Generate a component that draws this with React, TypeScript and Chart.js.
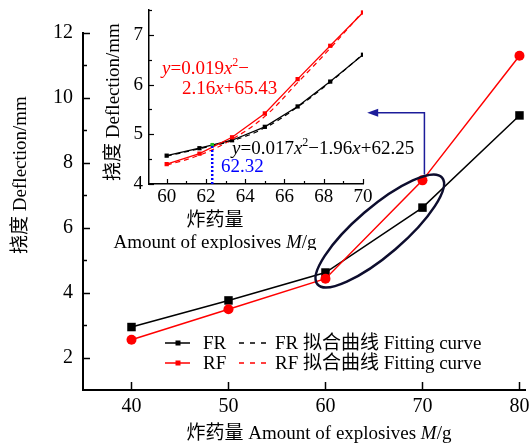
import React, { useEffect, useRef } from "react";
import { Chart, registerables } from "chart.js";
Chart.register(...registerables);

// ---------- data ----------
const X_MAIN = [40, 50, 60, 70, 80];
const FR_MAIN = [2.94, 3.76, 4.62, 6.62, 9.46];
const RF_MAIN = [2.55, 3.49, 4.43, 7.46, 11.3];
const X_TICKS_MAIN = [40, 50, 60, 70, 80];
const Y_TICKS_MAIN = [2, 4, 6, 8, 10, 12];
const Y_MINOR_MAIN = [3, 5, 7, 9, 11];

const X_INSET = [60, 61.67, 63.33, 65, 66.67, 68.33, 70];
const FR_INSET = [4.57, 4.72, 4.88, 5.15, 5.56, 6.06, 6.6];
const RF_INSET = [4.4, 4.61, 4.94, 5.42, 6.11, 6.78, 7.45];
const FR_FIT = [4.56, 4.71, 4.87, 5.13, 5.55, 6.05, 6.61];
const RF_FIT = [4.38, 4.58, 4.9, 5.36, 6.04, 6.73, 7.47];
const X_TICKS_INSET = [60, 62, 64, 66, 68, 70];
const X_MINOR_INSET = [61, 63, 65, 67, 69];
const Y_TICKS_INSET = [4, 5, 6, 7];
const Y_MINOR_INSET = [4.5, 5.5, 6.5, 7.5];
const CROSS_X = 62.32;
const CROSS_Y = 4.79;

const SERIES_NAMES = ["FR", "RF"];
const FIT_NAMES = ["FR 拟合曲线 Fitting curve", "RF 拟合曲线 Fitting curve"];

// ---------- styles ----------
const SERIF = '"Liberation Serif", "Times New Roman", "Noto Sans CJK SC", serif';
const RED = "#ff0000";
const BLACK = "#000000";
const BLUE = "#0000ff";
const NAVY = "#1c1c9a";

type Seg = { t: string; it?: boolean; sup?: boolean };

function drawRich(
  ctx: CanvasRenderingContext2D,
  segs: Seg[],
  x: number,
  y: number,
  size: number,
  color: string,
  align: "left" | "center" = "left"
) {
  const fontFor = (s: Seg) =>
    `${s.it ? "italic " : ""}${s.sup ? Math.round(size * 0.62) : size}px ${SERIF}`;
  const widths = segs.map((s) => {
    ctx.font = fontFor(s);
    return ctx.measureText(s.t).width;
  });
  const total = widths.reduce((a, b) => a + b, 0);
  let cx = align === "center" ? x - total / 2 : x;
  ctx.fillStyle = color;
  ctx.textAlign = "left";
  ctx.textBaseline = "alphabetic";
  const base = y + size * 0.33;
  segs.forEach((s, i) => {
    ctx.font = fontFor(s);
    ctx.fillText(s.t, cx, s.sup ? base - size * 0.42 : base);
    cx += widths[i];
  });
}

function tickLine(ctx: CanvasRenderingContext2D, x1: number, y1: number, x2: number, y2: number, w: number) {
  ctx.beginPath();
  ctx.moveTo(x1, y1);
  ctx.lineTo(x2, y2);
  ctx.lineWidth = w;
  ctx.strokeStyle = BLACK;
  ctx.stroke();
}

const pts = (xs: number[], ys: number[]) => xs.map((x, i) => ({ x, y: ys[i] }));

export default function App() {
  const mainRef = useRef<HTMLCanvasElement>(null);
  const insetRef = useRef<HTMLCanvasElement>(null);

  useEffect(() => {
    if (!mainRef.current || !insetRef.current) return;

    const mainPlugin = {
      id: "mainDecor",
      afterDraw(chart: any) {
        const ctx: CanvasRenderingContext2D = chart.ctx;
        const xs = chart.scales.x;
        const ys = chart.scales.y;
        const a = chart.chartArea;
        ctx.save();
        // inward ticks
        X_TICKS_MAIN.forEach((v) => {
          const px = Math.round(xs.getPixelForValue(v)) + 0.5;
          tickLine(ctx, px, a.bottom, px, a.bottom - 8, 1.5);
        });
        Y_TICKS_MAIN.forEach((v) => {
          const py = Math.round(ys.getPixelForValue(v)) + 0.5;
          tickLine(ctx, a.left, py, a.left + 7, py, 1.5);
        });
        Y_MINOR_MAIN.forEach((v) => {
          const py = Math.round(ys.getPixelForValue(v)) + 0.5;
          tickLine(ctx, a.left, py, a.left + 4, py, 1.5);
        });
        // axis titles
        drawRich(
          ctx,
          [{ t: "炸药量 Amount of explosives " }, { t: "M", it: true }, { t: "/g" }],
          319,
          433,
          19,
          BLACK,
          "center"
        );
        ctx.save();
        ctx.translate(20, 175);
        ctx.rotate(-Math.PI / 2);
        drawRich(ctx, [{ t: "挠度 Deflection/mm" }], 0, 0, 19, BLACK, "center");
        ctx.restore();

        // legend
        const rows = [
          { name: SERIES_NAMES[0], fit: FIT_NAMES[0], color: BLACK, y: 343 },
          { name: SERIES_NAMES[1], fit: FIT_NAMES[1], color: RED, y: 363 },
        ];
        rows.forEach((r) => {
          ctx.beginPath();
          ctx.setLineDash([]);
          ctx.moveTo(165, r.y);
          ctx.lineTo(190, r.y);
          ctx.strokeStyle = r.color;
          ctx.lineWidth = 1.5;
          ctx.stroke();
          ctx.fillStyle = r.color;
          ctx.fillRect(175.5, r.y - 2.5, 5, 5);
          drawRich(ctx, [{ t: r.name }], 203, r.y, 19, BLACK);
          ctx.beginPath();
          ctx.setLineDash([5, 6]);
          ctx.moveTo(239, r.y);
          ctx.lineTo(269, r.y);
          ctx.strokeStyle = r.color;
          ctx.lineWidth = 1.3;
          ctx.stroke();
          ctx.setLineDash([]);
          drawRich(ctx, [{ t: r.fit }], 275, r.y, 19, BLACK);
        });

        // ellipse around the 60-70 region
        const ecx = xs.getPixelForValue(65.6);
        const ecy = ys.getPixelForValue(5.9);
        ctx.beginPath();
        ctx.ellipse(ecx, ecy, 82, 24, (-40.6 * Math.PI) / 180, 0, Math.PI * 2);
        ctx.strokeStyle = "#0d0d2e";
        ctx.lineWidth = 2.5;
        ctx.stroke();

        // arrow to the inset
        const axp = xs.getPixelForValue(70.2);
        const ay0 = ys.getPixelForValue(7.64);
        const ay1 = ys.getPixelForValue(9.54);
        const tip = xs.getPixelForValue(64.3);
        ctx.beginPath();
        ctx.moveTo(axp, ay0);
        ctx.lineTo(axp, ay1);
        ctx.lineTo(tip + 9, ay1);
        ctx.strokeStyle = NAVY;
        ctx.lineWidth = 1.5;
        ctx.stroke();
        ctx.beginPath();
        ctx.moveTo(tip, ay1);
        ctx.lineTo(tip + 11, ay1 - 4);
        ctx.lineTo(tip + 11, ay1 + 4);
        ctx.closePath();
        ctx.fillStyle = NAVY;
        ctx.fill();
        ctx.restore();
      },
    };

    const main = new Chart(mainRef.current, {
      type: "line",
      data: {
        datasets: [
          {
            label: "RF",
            data: pts(X_MAIN, RF_MAIN),
            borderColor: RED,
            backgroundColor: RED,
            borderWidth: 1.5,
            pointStyle: "circle",
            pointRadius: 5,
            pointBorderWidth: 0,
          },
          {
            label: "FR",
            data: pts(X_MAIN, FR_MAIN),
            borderColor: BLACK,
            backgroundColor: BLACK,
            borderWidth: 1.5,
            pointStyle: "rect",
            pointRadius: 6,
            pointBorderWidth: 0,
          },
        ],
      },
      options: {
        animation: false,
        responsive: false,
        devicePixelRatio: 1,
        layout: { padding: { top: 33, right: 4, left: 0, bottom: 0 } },
        plugins: { legend: { display: false }, tooltip: { enabled: false } },
        scales: {
          x: {
            type: "linear",
            min: 35,
            max: 80.57,
            afterBuildTicks: (s: any) => {
              s.ticks = X_TICKS_MAIN.map((v) => ({ value: v }));
            },
            afterFit: (s: any) => {
              s.height = 54;
              s.paddingLeft = 0;
              s.paddingRight = 0;
            },
            ticks: {
              font: { family: SERIF, size: 20 },
              color: BLACK,
              padding: 5,
              maxRotation: 0,
              autoSkip: false,
            },
            grid: { color: "transparent", drawTicks: false },
            border: { color: BLACK, width: 2 },
          },
          y: {
            type: "linear",
            min: 1,
            max: 12,
            afterBuildTicks: (s: any) => {
              s.ticks = Y_TICKS_MAIN.map((v) => ({ value: v }));
            },
            afterFit: (s: any) => {
              s.width = 83;
              s.paddingTop = 0;
              s.paddingBottom = 0;
            },
            ticks: {
              font: { family: SERIF, size: 20 },
              color: BLACK,
              padding: 10,
              autoSkip: false,
            },
            grid: { color: "transparent", drawTicks: false },
            border: { color: BLACK, width: 2 },
          },
        },
      },
      plugins: [mainPlugin],
    } as any);

    const insetPlugin = {
      id: "insetDecor",
      afterDraw(chart: any) {
        const ctx: CanvasRenderingContext2D = chart.ctx;
        const xs = chart.scales.x;
        const ys = chart.scales.y;
        const a = chart.chartArea;
        ctx.save();
        X_TICKS_INSET.forEach((v) => {
          const px = Math.round(xs.getPixelForValue(v)) + 0.5;
          tickLine(ctx, px, a.bottom, px, a.bottom - 5, 1.2);
        });
        X_MINOR_INSET.forEach((v) => {
          const px = Math.round(xs.getPixelForValue(v)) + 0.5;
          tickLine(ctx, px, a.bottom, px, a.bottom - 3, 1.2);
        });
        Y_TICKS_INSET.forEach((v) => {
          const py = Math.round(ys.getPixelForValue(v)) + 0.5;
          tickLine(ctx, a.left, py, a.left + 5, py, 1.2);
        });
        Y_MINOR_INSET.forEach((v) => {
          const py = Math.round(ys.getPixelForValue(v)) + 0.5;
          tickLine(ctx, a.left, py, a.left + 3, py, 1.2);
        });
        // titles (canvas left offset 95)
        drawRich(ctx, [{ t: "炸药量" }], 120, 220, 19, BLACK, "center");
        drawRich(
          ctx,
          [{ t: "Amount of explosives " }, { t: "M", it: true }, { t: "/g" }],
          120,
          242,
          19,
          BLACK,
          "center"
        );
        ctx.save();
        ctx.translate(18, 102);
        ctx.rotate(-Math.PI / 2);
        drawRich(ctx, [{ t: "挠度 Deflection/mm" }], 0, 0, 19, BLACK, "center");
        ctx.restore();
        // equations
        drawRich(
          ctx,
          [{ t: "y", it: true }, { t: "=0.019" }, { t: "x", it: true }, { t: "2", sup: true }, { t: "−" }],
          67,
          68,
          19,
          RED
        );
        drawRich(ctx, [{ t: "2.16" }, { t: "x", it: true }, { t: "+65.43" }], 87, 88, 19, RED);
        drawRich(
          ctx,
          [
            { t: "y", it: true },
            { t: "=0.017" },
            { t: "x", it: true },
            { t: "2", sup: true },
            { t: "−1.96" },
            { t: "x", it: true },
            { t: "+62.25" },
          ],
          137,
          148,
          19,
          BLACK
        );
        drawRich(ctx, [{ t: String(CROSS_X) }], 126, 166, 19, BLUE);
        ctx.restore();
      },
    };

    const inset = new Chart(insetRef.current, {
      type: "line",
      data: {
        datasets: [
          {
            label: "cross",
            data: [
              { x: CROSS_X, y: 4 },
              { x: CROSS_X, y: CROSS_Y },
            ],
            borderColor: BLUE,
            borderWidth: 2.5,
            borderDash: [2, 2],
            pointRadius: 0,
          },
          {
            label: "crossPoint",
            data: [{ x: CROSS_X, y: CROSS_Y }],
            showLine: false,
            pointStyle: "rect",
            pointRadius: 2.5,
            backgroundColor: "#22bb22",
            borderWidth: 0,
          },
          {
            label: "RF",
            data: pts(X_INSET, RF_INSET),
            borderColor: RED,
            backgroundColor: RED,
            borderWidth: 1.3,
            pointStyle: "rect",
            pointRadius: 3,
            pointBorderWidth: 0,
          },
          {
            label: "FR",
            data: pts(X_INSET, FR_INSET),
            borderColor: BLACK,
            backgroundColor: BLACK,
            borderWidth: 1.3,
            pointStyle: "rect",
            pointRadius: 3,
            pointBorderWidth: 0,
          },
          {
            label: "RF fit",
            data: pts(X_INSET, RF_FIT),
            borderColor: RED,
            borderWidth: 1.2,
            borderDash: [5, 4],
            pointRadius: 0,
            tension: 0.4,
          },
          {
            label: "FR fit",
            data: pts(X_INSET, FR_FIT),
            borderColor: BLACK,
            borderWidth: 1.2,
            borderDash: [5, 4],
            pointRadius: 0,
            tension: 0.4,
          },
        ],
      },
      options: {
        animation: false,
        responsive: false,
        devicePixelRatio: 1,
        layout: { padding: { top: 10, right: 72, left: 0, bottom: 0 } },
        plugins: { legend: { display: false }, tooltip: { enabled: false } },
        scales: {
          x: {
            type: "linear",
            min: 59.1,
            max: 70,
            afterBuildTicks: (s: any) => {
              s.ticks = X_TICKS_INSET.map((v) => ({ value: v }));
            },
            afterFit: (s: any) => {
              s.height = 66;
              s.paddingLeft = 0;
              s.paddingRight = 0;
            },
            ticks: {
              font: { family: SERIF, size: 19 },
              color: BLACK,
              padding: 2,
              maxRotation: 0,
              autoSkip: false,
            },
            grid: { color: "transparent", drawTicks: false },
            border: { color: BLACK, width: 1.5 },
          },
          y: {
            type: "linear",
            min: 4,
            max: 7.5,
            afterBuildTicks: (s: any) => {
              s.ticks = Y_TICKS_INSET.map((v) => ({ value: v }));
            },
            afterFit: (s: any) => {
              s.width = 54;
              s.paddingTop = 0;
              s.paddingBottom = 0;
            },
            ticks: {
              font: { family: SERIF, size: 19 },
              color: BLACK,
              padding: 6,
              autoSkip: false,
            },
            grid: { color: "transparent", drawTicks: false },
            border: { color: BLACK, width: 1.5 },
          },
        },
      },
      plugins: [insetPlugin],
    } as any);

    return () => {
      main.destroy();
      inset.destroy();
    };
  }, []);

  return (
    <div style={{ position: "absolute", left: 0, top: 0, width: 531, height: 444, background: "#fff" }}>
      <canvas
        ref={mainRef}
        width={531}
        height={444}
        style={{ position: "absolute", left: 0, top: 0, width: 531, height: 444 }}
      />
      <canvas
        ref={insetRef}
        width={340}
        height={250}
        style={{ position: "absolute", left: 95, top: 0, width: 340, height: 250 }}
      />
    </div>
  );
}
